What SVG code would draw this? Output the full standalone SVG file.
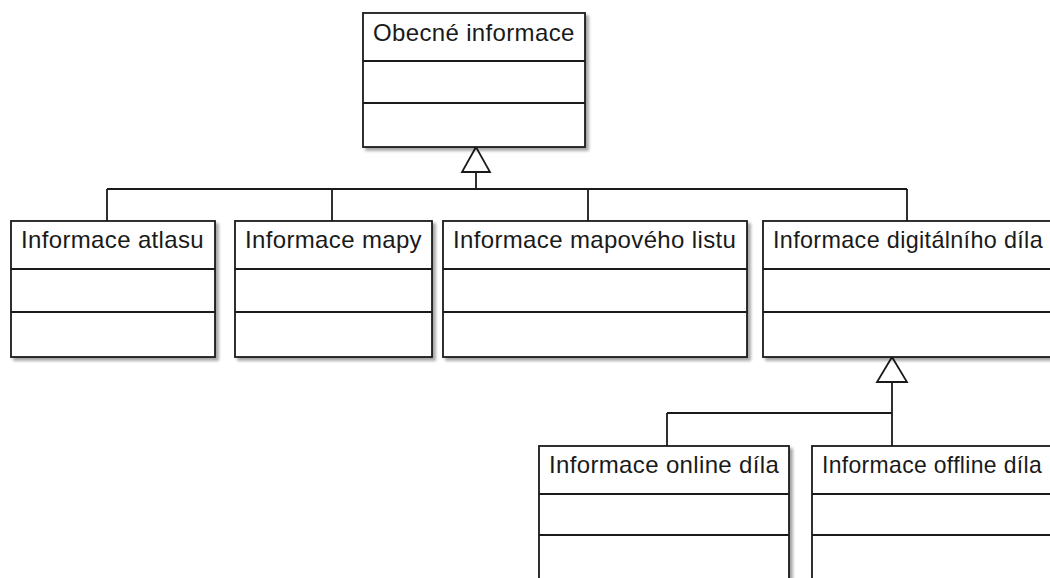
<svg xmlns="http://www.w3.org/2000/svg" width="1050" height="578" viewBox="0 0 1050 578">
<style>
.box{fill:#fff;stroke:#1a1a1a;stroke-width:1.8;filter:url(#sh)}
.div{stroke:#1a1a1a;stroke-width:1.8;fill:none}
.lbl{font-family:"Liberation Sans",Arial,sans-serif;font-size:24px;letter-spacing:0.35px;fill:#1a1a1a}
.con{stroke:#1a1a1a;stroke-width:1.8;fill:none}
.tri{fill:#fff;stroke:#1a1a1a;stroke-width:1.8;stroke-linejoin:miter}
</style>
<defs>
<filter id="sh" x="-5%" y="-5%" width="115%" height="115%">
<feGaussianBlur in="SourceAlpha" stdDeviation="1.5"/>
<feOffset dx="3" dy="3" result="b"/>
<feComponentTransfer><feFuncA type="linear" slope="0.35"/></feComponentTransfer>
<feMerge><feMergeNode/><feMergeNode in="SourceGraphic"/></feMerge>
</filter>
</defs>
<rect width="1050" height="578" fill="#fff"/>
<g id="connectors">
<path class="con" d="M476 172V189M107 189H907M107 189V221M332 189V221M588 189V221M907 189V221"/>
<polygon class="tri" points="476,147 462,172 490,172"/>
<path class="con" d="M892 382V446M667 413H892M667 413V446"/>
<polygon class="tri" points="892,357 877,382 907,382"/>
</g>
<g id="obecne">
<rect class="box" x="363" y="13" width="222" height="134"/>
<path class="div" d="M363 61H585M363 103H585"/>
<text class="lbl" x="373" y="41">Obecné informace</text>
</g>
<g id="atlas">
<rect class="box" x="11" y="221" width="204" height="136"/>
<path class="div" d="M11 269H215M11 312H215"/>
<text class="lbl" x="21" y="248">Informace atlasu</text>
</g>
<g id="mapa">
<rect class="box" x="235" y="221" width="197" height="136"/>
<path class="div" d="M235 269H432M235 312H432"/>
<text class="lbl" x="245" y="248">Informace mapy</text>
</g>
<g id="mapovy-list">
<rect class="box" x="443" y="221" width="304" height="136"/>
<path class="div" d="M443 269H747M443 312H747"/>
<text class="lbl" x="453" y="248">Informace mapového listu</text>
</g>
<g id="digitalni">
<rect class="box" x="763" y="221" width="310" height="136"/>
<path class="div" d="M763 269H1073M763 312H1073"/>
<text class="lbl" x="773" y="248" textLength="270" lengthAdjust="spacingAndGlyphs">Informace digitálního díla</text>
</g>
<g id="online">
<rect class="box" x="539" y="446" width="250" height="160"/>
<path class="div" d="M539 494H789M539 535H789"/>
<text class="lbl" x="549" y="473">Informace online díla</text>
</g>
<g id="offline">
<rect class="box" x="812" y="446" width="260" height="160"/>
<path class="div" d="M812 494H1072M812 535H1072"/>
<text class="lbl" x="822" y="473" textLength="220" lengthAdjust="spacingAndGlyphs">Informace offline díla</text>
</g>
</svg>
